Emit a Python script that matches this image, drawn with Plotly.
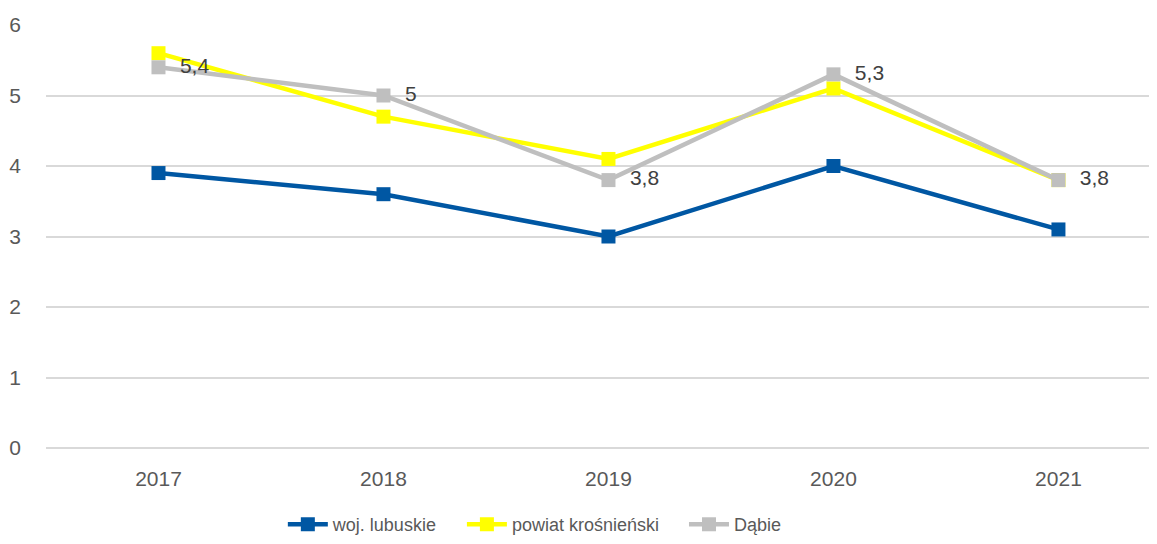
import plotly.graph_objects as go

years = ["2017", "2018", "2019", "2020", "2021"]
woj_lubuskie = [3.9, 3.6, 3.0, 4.0, 3.1]
powiat_krosnienski = [5.6, 4.7, 4.1, 5.1, 3.8]
dabie = [5.4, 5.0, 3.8, 5.3, 3.8]
y_ticks = [0, 1, 2, 3, 4, 5, 6]

FONT = "Liberation Sans"
NB = "\u00a0"

fig = go.Figure()
fig.add_trace(go.Scatter(
    x=years, y=woj_lubuskie, name="woj. lubuskie" + NB * 4, mode="lines+markers",
    line=dict(color="#0057A3", width=4.5),
    marker=dict(symbol="square", size=14, color="#0057A3"),
))
fig.add_trace(go.Scatter(
    x=years, y=powiat_krosnienski, name="powiat krośnieński" + NB * 4, mode="lines+markers",
    line=dict(color="#FFFF00", width=4.5),
    marker=dict(symbol="square", size=14, color="#FFFF00"),
))
fig.add_trace(go.Scatter(
    x=years, y=dabie, name="Dąbie", mode="lines+markers+text",
    line=dict(color="#BFBFBF", width=4.5),
    marker=dict(symbol="square", size=14, color="#BFBFBF"),
    text=[NB * 2 + f"{v:g}".replace(".", ",") for v in dabie],
    textposition="middle right",
    textfont=dict(family=FONT, size=21, color="#404040"),
    cliponaxis=False,
))

fig.update_layout(
    width=1149, height=536,
    margin=dict(l=38, r=0, t=17, b=96),
    paper_bgcolor="white", plot_bgcolor="white",
    separators=", ",
    font=dict(family=FONT, size=21, color="#595959"),
    showlegend=True,
    legend=dict(orientation="h", x=0.44, xanchor="center", y=-0.181, yanchor="middle",
                font=dict(family=FONT, size=18, color="#595959"), itemwidth=40,
                traceorder="normal"),
    xaxis=dict(type="category", range=[-0.5, 4.438], showgrid=False, zeroline=False,
               showline=False, ticks="", ticklabelstandoff=16,
               tickfont=dict(family=FONT, size=21, color="#595959")),
    yaxis=dict(range=[0, 6], tickvals=y_ticks, showgrid=True, gridcolor="#D9D9D9", gridwidth=1.5,
               zeroline=True, zerolinecolor="#D9D9D9", zerolinewidth=1.5,
               showline=False, ticks="", ticklabelstandoff=24,
               tickfont=dict(family=FONT, size=21, color="#595959")),
)

fig.write_html("out.html")
